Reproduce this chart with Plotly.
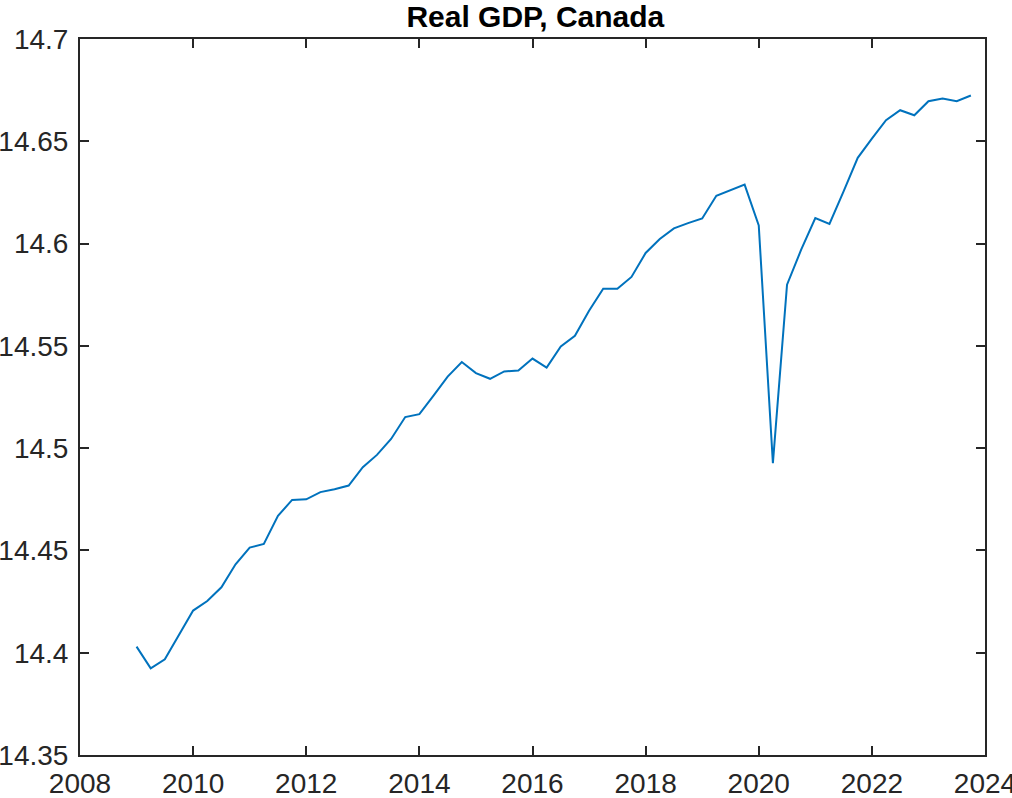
import plotly.graph_objects as go

# quarterly observations, 2009Q1 .. 2023Q4 (log real GDP)
years = list(range(2009, 2024))
quarter_offsets = [0.0, 0.25, 0.5, 0.75]
log_gdp = [
    14.4030, 14.3924, 14.3968, 14.4087,   # 2009
    14.4206, 14.4253, 14.4320, 14.4432,   # 2010
    14.4514, 14.4532, 14.4669, 14.4747,   # 2011
    14.4750, 14.4785, 14.4799, 14.4817,   # 2012
    14.4907, 14.4967, 14.5045, 14.5152,   # 2013
    14.5166, 14.5257, 14.5350, 14.5421,   # 2014
    14.5367, 14.5339, 14.5375, 14.5380,   # 2015
    14.5438, 14.5394, 14.5497, 14.5549,   # 2016
    14.5672, 14.5779, 14.5779, 14.5837,   # 2017
    14.5954, 14.6022, 14.6074, 14.6100,   # 2018
    14.6123, 14.6234, 14.6260, 14.6288,   # 2019
    14.6089, 14.4927, 14.5799, 14.5970,   # 2020
    14.6125, 14.6096, 14.6255, 14.6419,   # 2021
    14.6513, 14.6603, 14.6652, 14.6627,   # 2022
    14.6696, 14.6709, 14.6696, 14.6724,   # 2023
]
dates = [y + q for y in years for q in quarter_offsets]

x_ticks = [2008, 2010, 2012, 2014, 2016, 2018, 2020, 2022, 2024]
y_ticks = [14.35, 14.4, 14.45, 14.5, 14.55, 14.6, 14.65, 14.7]
y_tick_text = ["14.35", "14.4", "14.45", "14.5", "14.55", "14.6", "14.65", "14.7"]

ink = "#262626"
font_family = "Liberation Sans, Arial, Helvetica, sans-serif"

fig = go.Figure()
fig.add_trace(go.Scatter(x=dates, y=log_gdp, mode="lines",
                         line=dict(color="#0072BD", width=2),
                         showlegend=False))

axis_style = dict(showgrid=False, zeroline=False, showline=True,
                  linecolor=ink, linewidth=2, mirror="ticks",
                  ticks="inside", ticklen=9, tickwidth=1.5, tickcolor=ink,
                  ticklabeloverflow="allow",
                  tickfont=dict(family=font_family, size=28, color=ink))

fig.update_layout(
    width=1012, height=798,
    margin=dict(l=80, r=27, t=39, b=43, autoexpand=False),
    paper_bgcolor="white", plot_bgcolor="white",
    title=dict(text="<b>Real GDP, Canada</b>", x=0.529, xanchor="center",
               y=0.993, yanchor="top",
               font=dict(family=font_family, size=30, color="black")),
    xaxis=dict(range=[2008, 2024], tickvals=x_ticks,
               ticklabelstandoff=2, **axis_style),
    yaxis=dict(range=[14.35, 14.7], tickvals=y_ticks, ticktext=y_tick_text,
               ticklabelstandoff=4, **axis_style),
)

# drop the browser's default body margin so the figure fills the window
fig.write_html("out.html", config={"displayModeBar": False},
               post_script="document.body.style.margin='0px';")
